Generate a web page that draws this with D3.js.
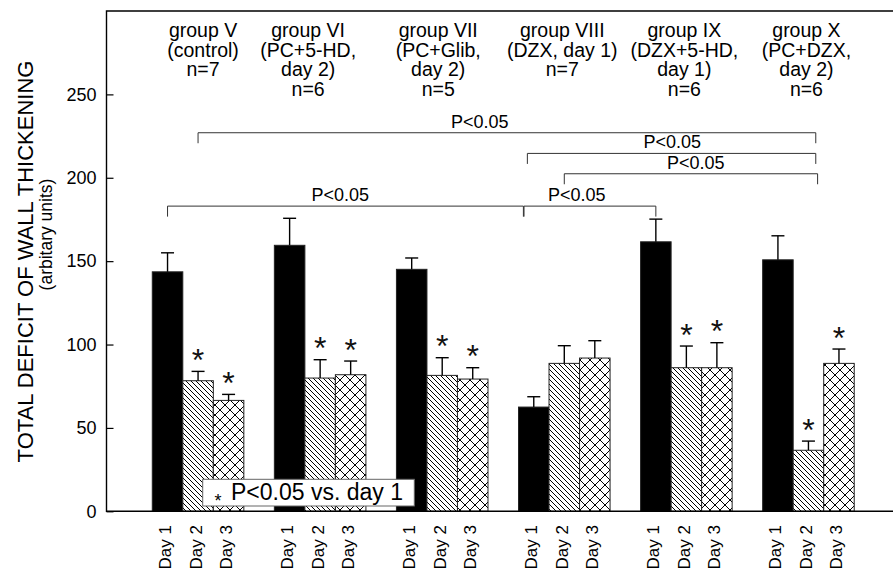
<!DOCTYPE html>
<html>
<head>
<meta charset="utf-8">
<script src="https://cdn.jsdelivr.net/npm/d3@7"></script>
<style>
  html, body { margin: 0; padding: 0; background: #fff; }
  svg { display: block; font-family: "Liberation Sans", Arial, Helvetica, sans-serif; }
</style>
</head>
<body>
<svg id="chart" width="893" height="568"></svg>
<script>
// ---- data ----
const groups = ["V", "VI", "VII", "VIII", "IX", "X"];
const groupLabels = [
  ["group V", "(control)", "n=7"],
  ["group VI", "(PC+5-HD,", "day 2)", "n=6"],
  ["group VII", "(PC+Glib,", "day 2)", "n=5"],
  ["group VIII", "(DZX, day 1)", "n=7"],
  ["group IX", "(DZX+5-HD,", "day 1)", "n=6"],
  ["group X", "(PC+DZX,", "day 2)", "n=6"]
];
const days = ["Day 1", "Day 2", "Day 3"];
// mean total deficit of wall thickening per group, day 1..3
const means = [
  [143.6, 78.3, 66.5],
  [159.5, 79.9, 81.9],
  [145.1, 81.5, 79.3],
  [62.5, 88.7, 91.9],
  [161.6, 86.1, 86.1],
  [150.8, 36.6, 88.7]
];
// upper error bar (SE)
const errors = [
  [11.4, 5.6, 3.6],
  [16.2, 11.0, 8.2],
  [6.8, 10.6, 6.8],
  [6.2, 10.6, 10.4],
  [13.6, 13.0, 15.0],
  [14.4, 5.5, 8.6]
];
// P<0.05 vs. day 1
const significant = [
  [false, true, true],
  [false, true, true],
  [false, true, true],
  [false, false, false],
  [false, true, true],
  [false, true, true]
];
const yTicks = [0, 50, 100, 150, 200, 250];
// between-group comparisons: ends and label in bar-slot units, level in y units
const brackets = [
  { from: 1.5,   to: 21.74, level: 227,   labelAt: 10.73, text: "P<0.05" },
  { from: 12.29, to: 21.74, level: 214.6, labelAt: 17.04, text: "P<0.05" },
  { from: 13.5,  to: 21.8,  level: 202.4, labelAt: 17.81, text: "P<0.05" },
  { from: 0.5,   to: 12.16, level: 183,   labelAt: 6.16,  text: "P<0.05" },
  { from: 12.18, to: 16.5,  level: 183,   labelAt: 13.91, text: "P<0.05" }
];

// ---- layout ----
const svg = d3.select("#chart");
const plot = { left: 106.5, right: 900, top: 11, bottom: 511.3 };
const labelNudge = [5, -12, -4, -2, -2, -2];

const x = d3.scaleBand().domain(groups)
  .range([plot.left, plot.right])
  .paddingInner(0.25).paddingOuter(0.375);
const xDay = d3.scaleBand().domain(days).range([0, x.bandwidth()]).padding(0);
const bw = xDay.bandwidth();
const slot = d3.scaleLinear().domain([0, 1])
  .range([x(groups[0]), x(groups[0]) + bw]);
const y = d3.scaleLinear().domain([0, 300]).range([plot.bottom, plot.top]);

// ---- fill patterns ----
const defs = svg.append("defs");
const diag = defs.append("pattern").attr("id", "diag")
  .attr("patternUnits", "userSpaceOnUse").attr("width", 5).attr("height", 5);
diag.append("rect").attr("width", 5).attr("height", 5).attr("fill", "#fff");
diag.append("path").attr("d", "M0,0L5,5M-1,4L1,6M4,-1L6,1")
  .attr("stroke", "#000").attr("stroke-width", 1);
const cross = defs.append("pattern").attr("id", "cross")
  .attr("patternUnits", "userSpaceOnUse").attr("width", 10).attr("height", 10);
cross.append("rect").attr("width", 10).attr("height", 10).attr("fill", "#fff");
cross.append("path").attr("d", "M0,0L10,10M10,0L0,10M-1,1L1,-1M9,11L11,9M-1,9L1,11M9,-1L11,1")
  .attr("stroke", "#000").attr("stroke-width", 1);
const fills = ["#000", "url(#diag)", "url(#cross)"];

// flat bar records
const bars = [];
groups.forEach((g, gi) => days.forEach((d, di) => bars.push({
  g, gi, d, di, v: means[gi][di], e: errors[gi][di], sig: significant[gi][di]
})));
const bx = b => x(b.g) + xDay(b.d);

// ---- bars ----
svg.append("g").selectAll("rect").data(bars).join("rect")
  .attr("x", bx).attr("y", b => y(b.v))
  .attr("width", bw).attr("height", b => y(0) - y(b.v))
  .attr("fill", b => fills[b.di])
  .attr("stroke", "#222").attr("stroke-width", 1);

// ---- error bars (upper only) ----
const eg = svg.append("g").attr("stroke", "#000").attr("stroke-width", 1.4);
eg.selectAll("line.v").data(bars).join("line").attr("class", "v")
  .attr("x1", b => bx(b) + bw / 2).attr("x2", b => bx(b) + bw / 2)
  .attr("y1", b => y(b.v)).attr("y2", b => y(b.v + b.e));
eg.selectAll("line.c").data(bars).join("line").attr("class", "c")
  .attr("x1", b => bx(b) + bw / 2 - 6.5).attr("x2", b => bx(b) + bw / 2 + 6.5)
  .attr("y1", b => y(b.v + b.e)).attr("y2", b => y(b.v + b.e));

// ---- significance asterisks ----
svg.append("g").selectAll("text").data(bars.filter(b => b.sig)).join("text")
  .attr("x", b => bx(b) + bw / 2)
  .attr("y", b => y(b.v + b.e) - 19 + 0.58 * 32)
  .attr("text-anchor", "middle").attr("font-size", 32).attr("fill", "#111")
  .text("*");

// ---- comparison brackets ----
const br = svg.append("g");
brackets.forEach(b => {
  const yl = y(b.level);
  br.append("path")
    .attr("d", `M${slot(b.from)},${yl + 10.5}V${yl}H${slot(b.to)}V${yl + 10.5}`)
    .attr("fill", "none").attr("stroke", "#333").attr("stroke-width", 1);
  br.append("text").attr("x", slot(b.labelAt)).attr("y", yl - 5)
    .attr("text-anchor", "middle").attr("font-size", 18).text(b.text);
});

// ---- frame and axes ----
const frame = svg.append("g").attr("stroke", "#000").attr("stroke-width", 1.4).attr("fill", "none");
frame.append("path").attr("d", `M${plot.right},${plot.top}H${plot.left}V${plot.bottom}H${plot.right}`);

const yAxis = svg.append("g").attr("transform", `translate(${plot.left},0)`)
  .call(d3.axisLeft(y).tickValues(yTicks).tickSize(-7).tickPadding(10));
yAxis.select(".domain").remove();
yAxis.selectAll("line").attr("stroke-width", 1.2);
yAxis.selectAll("text").attr("font-size", 18).attr("font-family", "Liberation Sans, Arial, sans-serif").attr("fill", "#000");

// ---- day labels ----
svg.append("g").selectAll("text").data(bars).join("text")
  .attr("transform", b => `translate(${bx(b) + bw / 2 - 2.5},525) rotate(-90)`)
  .attr("text-anchor", "end").attr("dy", "0.35em")
  .attr("font-size", 17).text(b => b.d);

// ---- group labels ----
const gl = svg.append("g");
groupLabels.forEach((lines, gi) => {
  const cx = x(groups[gi]) + x.bandwidth() / 2 + labelNudge[gi];
  lines.forEach((s, li) => gl.append("text")
    .attr("text-anchor", "middle").attr("font-size", 19.5)
    .attr("x", cx).attr("y", 37 + li * 19.7).text(s));
});

// ---- y-axis title ----
svg.append("text").attr("transform", "translate(33,261.5) rotate(-90)")
  .attr("text-anchor", "middle").attr("font-size", 22)
  .text("TOTAL DEFICIT OF WALL THICKENING");
svg.append("text").attr("transform", "translate(52,234.5) rotate(-90)")
  .attr("text-anchor", "middle").attr("font-size", 17.5)
  .text("(arbitary units)");

// ---- legend ----
const lg = svg.append("g");
lg.append("rect").attr("x", 202.7).attr("y", 479.3).attr("width", 211.6).attr("height", 26.7)
  .attr("fill", "#fff").attr("stroke", "#666").attr("stroke-width", 1);
lg.append("text").attr("x", 218).attr("y", 507).attr("text-anchor", "middle")
  .attr("font-size", 18).text("*");
lg.append("text").attr("x", 231).attr("y", 500).attr("font-size", 23).text("P<0.05 vs. day 1");
</script>
</body>
</html>
